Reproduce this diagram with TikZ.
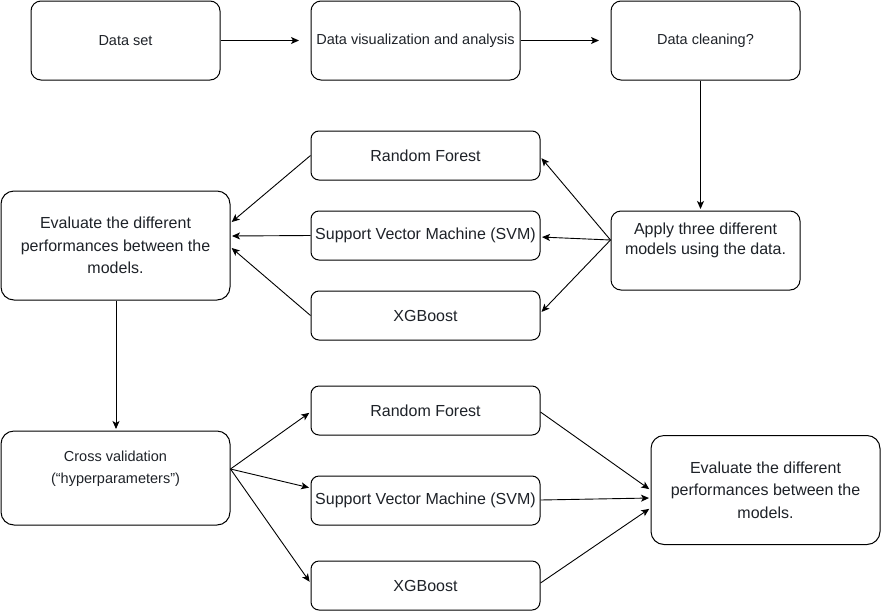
\documentclass[tikz,border=0pt]{standalone}
\usepackage{fontspec}
\setmainfont{Liberation Sans}
\usetikzlibrary{arrows.meta}
\definecolor{txtc}{RGB}{30,34,40}
\tikzset{
  box/.style={draw=black, line width=1pt, rounded corners=#1, inner sep=0pt, fill=white},
  box/.default=10pt,
  lbl/.style={text=txtc, align=center, inner sep=0pt},
  big/.style={font=\fontsize{16}{22.5}\selectfont},
  small/.style={font=\fontsize{14.5}{22}\selectfont},
  arr/.style={draw=black, line width=0.9pt, -{Stealth[length=8pt,width=7pt,inset=2pt]}, shorten >=1.5pt}
}
\begin{document}
\begin{tikzpicture}[x=1pt,y=-1pt]
\useasboundingbox (0,0) rectangle (881,611);
% boxes
\node[box, minimum width=189pt, minimum height=79pt] (ds) at (125.5,40.5) {};
\node[box, minimum width=209pt, minimum height=79pt] (viz) at (415.5,40.5) {};
\node[box, minimum width=189pt, minimum height=79pt] (clean) at (705.5,40.5) {};
\node[box=8pt, minimum width=229pt, minimum height=49pt] (rf1) at (425.5,155.5) {};
\node[box=8pt, minimum width=229pt, minimum height=49pt] (svm1) at (425.5,235.5) {};
\node[box=8pt, minimum width=229pt, minimum height=49pt] (xgb1) at (425.5,315.5) {};
\node[box, minimum width=189pt, minimum height=79pt] (apply) at (705.5,250.5) {};
\node[box=13pt, minimum width=229pt, minimum height=109pt] (eval1) at (115.5,245.5) {};
\node[box=13pt, minimum width=229pt, minimum height=94pt] (cv) at (115.5,478) {};
\node[box=8pt, minimum width=229pt, minimum height=49pt] (rf2) at (425.5,410.5) {};
\node[box=8pt, minimum width=229pt, minimum height=49pt] (svm2) at (425.5,500.5) {};
\node[box=8pt, minimum width=229pt, minimum height=49pt] (xgb2) at (425.5,585.5) {};
\node[box=13pt, minimum width=229pt, minimum height=109pt] (eval2) at (765.5,490) {};
% labels
\node[lbl, small] (tds) at (ds.center) {Data set};
\node[lbl, small] (tviz) at (viz.center) {Data visualization and analysis};
\node[lbl, small] (tclean) at (clean.center) {Data cleaning?};
\node[lbl, big] (trf1) at (rf1.center) {Random Forest};
\node[lbl, big] (tsvm1) at (svm1.center) {Support Vector Machine (SVM)};
\node[lbl, big] (txgb1) at (xgb1.center) {XGBoost};
\node[lbl, big, font=\fontsize{16}{20}\selectfont] (tapply) at ([yshift=10pt]apply.center) {Apply three different\\models using the data.};
\node[lbl, big] (teval1) at (eval1.center) {Evaluate the different\\performances between the\\models.};
\node[lbl, small] (tcv) at ([yshift=9pt]cv.center) {Cross validation\\(“hyperparameters”)};
\node[lbl, big] (trf2) at (rf2.center) {Random Forest};
\node[lbl, big] (tsvm2) at (svm2.center) {Support Vector Machine (SVM)};
\node[lbl, big] (txgb2) at (xgb2.center) {XGBoost};
\node[lbl, big] (teval2) at (eval2.center) {Evaluate the different\\performances between the\\models.};
% connectors
\draw[arr] (ds.east) -- ([xshift=-10pt]viz.west);
\draw[arr] (viz.east) -- ([xshift=-10pt]clean.west);
\draw[arr] ([xshift=-5pt]clean.south) -- ([xshift=-5pt]apply.north);
\coordinate (aL) at ([yshift=10.5pt]apply.west);
\draw[arr] (aL) -- ([yshift=-1.5pt]rf1.east);
\draw[arr] (aL) -- ([yshift=-1.5pt]svm1.east);
\draw[arr] (aL) -- ([yshift=2.5pt]xgb1.east);
\draw[arr] (rf1.west) -- ([yshift=22.5pt]eval1.east);
\draw[arr] (svm1.west) -- ([yshift=9.5pt]eval1.east);
\draw[arr] (xgb1.west) -- ([yshift=-1.5pt]eval1.east);
\draw[arr] ([xshift=0.5pt]eval1.south) -- ([xshift=0.5pt]cv.north);
\coordinate (cR) at ([yshift=9pt]cv.east);
\draw[arr] (cR) -- ([yshift=-1.5pt]rf2.west);
\draw[arr] (cR) -- ([yshift=12.5pt]svm2.west);
\draw[arr] (cR) -- ([yshift=2.5pt]xgb2.west);
\draw[arr] ([yshift=-1.5pt]rf2.east) -- (eval2.west);
\draw[arr] ([yshift=0.5pt]svm2.east) -- ([yshift=-8pt]eval2.west);
\draw[arr] ([yshift=2.5pt]xgb2.east) -- ([yshift=-18pt]eval2.west);
\end{tikzpicture}
\end{document}
